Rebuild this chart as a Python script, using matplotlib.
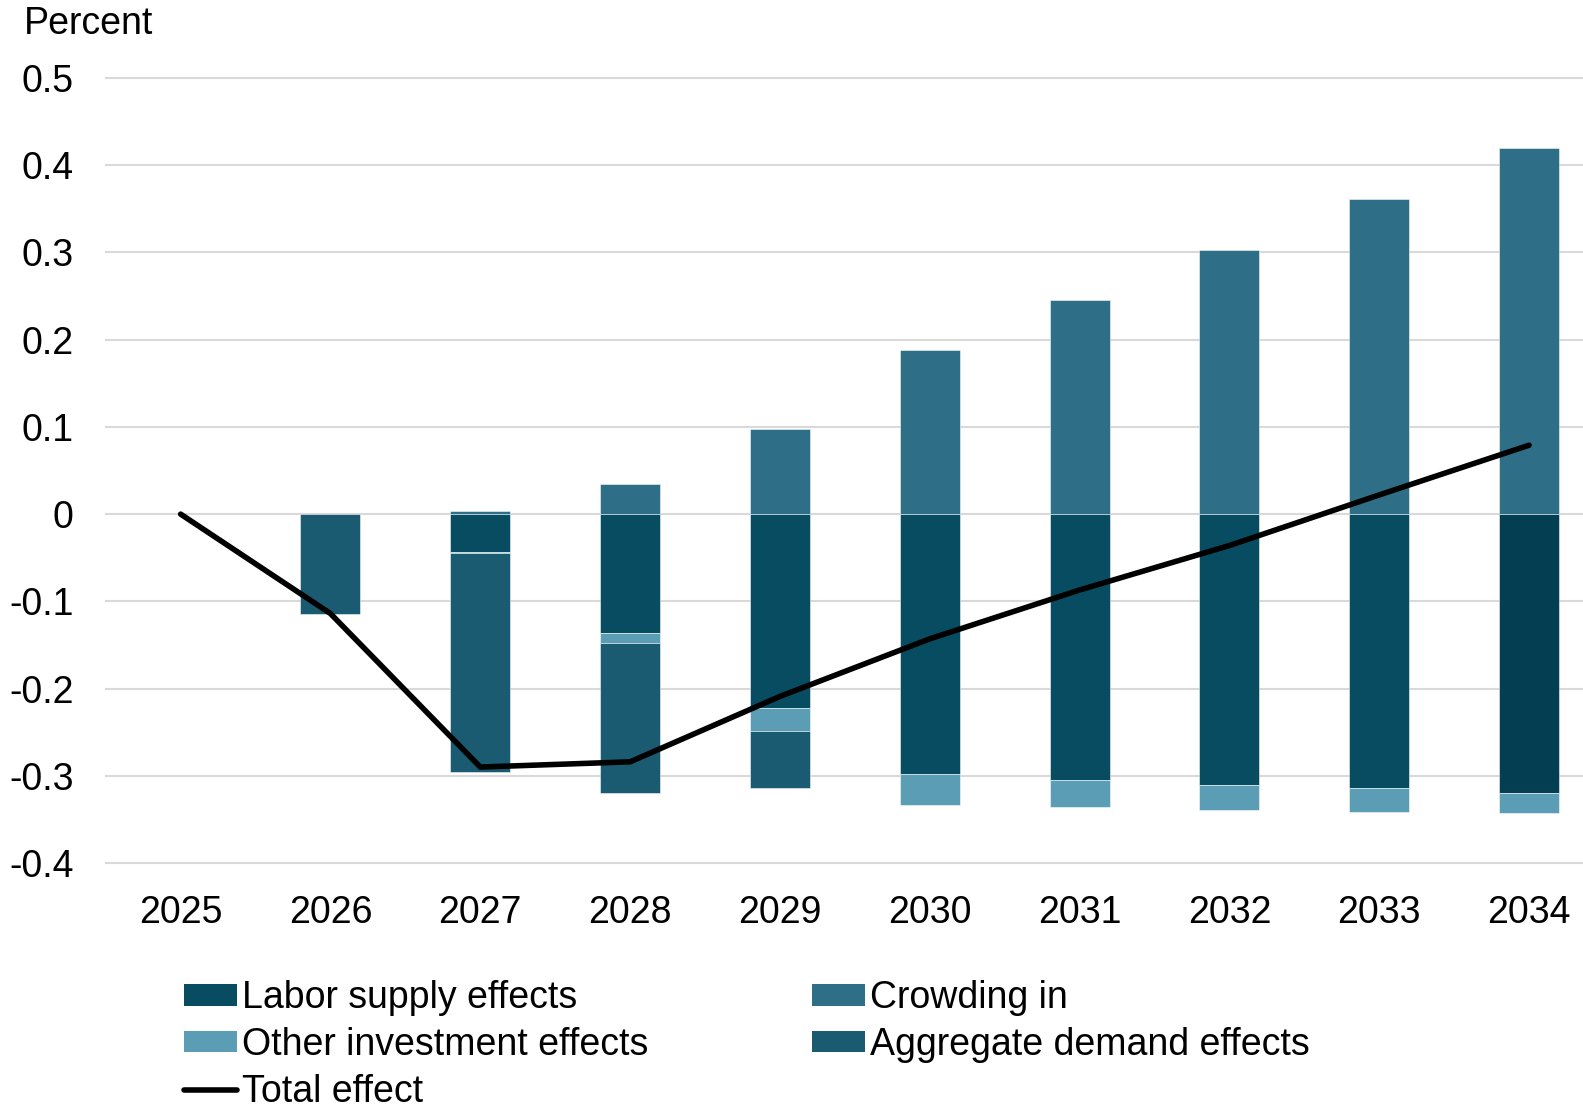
import matplotlib
matplotlib.use("Agg")
import matplotlib.pyplot as plt
import numpy as np
from matplotlib.patches import Patch
from matplotlib.lines import Line2D

plt.rcParams['font.family'] = ['Liberation Sans', 'DejaVu Sans']

years = ["2025", "2026", "2027", "2028", "2029", "2030", "2031", "2032", "2033", "2034"]
crowding_in = [0.0, 0.0, 0.003, 0.035, 0.098, 0.188, 0.245, 0.303, 0.361, 0.420]
labor_supply = [0.0, 0.0, -0.044, -0.136, -0.222, -0.298, -0.305, -0.311, -0.314, -0.320]
other_investment = [0.0, 0.0, -0.001, -0.012, -0.027, -0.035, -0.031, -0.028, -0.028, -0.023]
aggregate_demand = [0.0, -0.114, -0.251, -0.172, -0.065, 0.0, 0.0, 0.0, 0.0, 0.0]
total_effect = [0.0, -0.114, -0.290, -0.284, -0.209, -0.143, -0.087, -0.036, 0.022, 0.079]
y_ticks = [-0.4, -0.3, -0.2, -0.1, 0, 0.1, 0.2, 0.3, 0.4, 0.5]
y_tick_labels = ["-0.4", "-0.3", "-0.2", "-0.1", "0", "0.1", "0.2", "0.3", "0.4", "0.5"]

c_labor = "#074c60"
c_labor_last = "#033e52"
c_crowd = "#2e6f87"
c_other = "#5b9db5"
c_agg = "#1a5b72"

FS = 27

fig = plt.figure(figsize=(15.83, 11.10), dpi=100)
ax = fig.add_axes([105.7 / 1583, (1110 - 863) / 1110, 1 - 105.7 / 1583, (863 - 78) / 1110])

x = np.arange(len(years))
w = 0.4
labor_colors = [c_labor] * (len(years) - 1) + [c_labor_last]


def edges(vals):
    return [(1, 1, 1, 0.6) if v != 0 else "none" for v in vals]


lab = np.array(labor_supply)
oth = np.array(other_investment)
agg = np.array(aggregate_demand)
ax.bar(x, crowding_in, w, color=c_crowd, edgecolor=edges(crowding_in), linewidth=0.6, zorder=2)
ax.bar(x, lab, w, color=labor_colors, edgecolor=edges(labor_supply), linewidth=0.6, zorder=2)
ax.bar(x, oth, w, bottom=lab, color=c_other, edgecolor=edges(other_investment), linewidth=0.6, zorder=2)
ax.bar(x, agg, w, bottom=lab + oth, color=c_agg, edgecolor=edges(aggregate_demand), linewidth=0.6, zorder=2)
ax.plot(x, total_effect, color="black", lw=4, zorder=4, solid_capstyle="round", solid_joinstyle="miter")

for t in y_ticks:
    ax.axhline(t, color="#d9d9d9", lw=1.5, zorder=0, clip_on=False)

ax.set_ylim(-0.4, 0.5)
ax.set_xlim(-0.5, 9.36)
ax.set_yticks(y_ticks)
ax.set_yticklabels(y_tick_labels)
ax.set_xticks(x)
ax.set_xticklabels(years)
ax.tick_params(axis="y", length=0, pad=23, labelsize=FS)
ax.tick_params(axis="x", length=0, pad=23, labelsize=FS)
for s in ax.spines.values():
    s.set_visible(False)

fig.text(24 / 1583, 1 - 24 / 1110, "Percent", fontsize=FS, va="center", ha="left")

handles = [
    Patch(facecolor=c_labor, label="Labor supply effects"),
    Patch(facecolor=c_other, label="Other investment effects"),
    Line2D([0], [0], color="black", lw=4, solid_capstyle="round", label="Total effect"),
    Patch(facecolor=c_crowd, label="Crowding in"),
    Patch(facecolor=c_agg, label="Aggregate demand effects"),
]
fig.legend(handles=handles, loc="upper left", bbox_to_anchor=(184 / 1583, (1110 - 980) / 1110),
           ncol=2, frameon=False, fontsize=FS, handlelength=1.4, handleheight=0.51,
           handletextpad=0.16, labelspacing=0.29, columnspacing=4.35, borderpad=0, borderaxespad=0)

fig.savefig("out.png", dpi=100)
